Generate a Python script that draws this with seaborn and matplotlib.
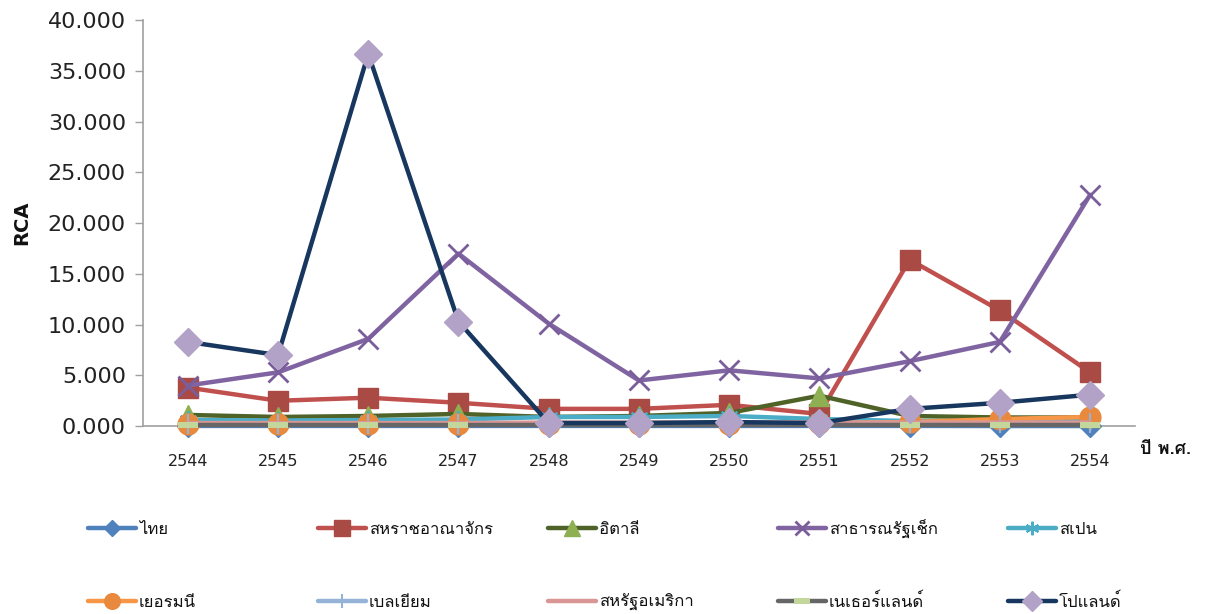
import numpy as np
import pandas as pd
import matplotlib
matplotlib.use("Agg")
import matplotlib.pyplot as plt
from matplotlib import font_manager
from matplotlib.ft2font import FT2Font
from matplotlib.lines import Line2D
import seaborn as sns

# ---- data -------------------------------------------------------------
years = [2544, 2545, 2546, 2547, 2548, 2549, 2550, 2551, 2552, 2553, 2554]
countries = ["ไทย", "สหราชอาณาจักร", "อิตาลี", "สาธารณรัฐเช็ก", "สเปน",
             "เยอรมนี", "เบลเยียม", "สหรัฐอเมริกา", "เนเธอร์แลนด์", "โปแลนด์"]

thailand = [0.02, 0.02, 0.02, 0.02, 0.02, 0.02, 0.02, 0.02, 0.02, 0.01, 0.01]
uk = [3.8, 2.5, 2.8, 2.3, 1.7, 1.7, 2.1, 1.2, 16.4, 11.4, 5.3]
italy = [1.1, 0.9, 1.0, 1.2, 0.9, 1.0, 1.3, 3.0, 1.0, 0.85, 0.85]
czech = [4.0, 5.3, 8.6, 17.0, 10.1, 4.5, 5.5, 4.7, 6.4, 8.3, 22.8]
spain = [0.6, 0.55, 0.6, 0.65, 0.9, 0.9, 1.0, 0.7, 0.5, 0.5, 0.5]
germany = [0.2, 0.2, 0.2, 0.2, 0.2, 0.2, 0.2, 0.3, 0.4, 0.7, 0.9]
belgium = [0.25, 0.25, 0.25, 0.25, 0.3, 0.3, 0.3, 0.3, 0.3, 0.3, 0.3]
usa = [0.3, 0.3, 0.3, 0.3, 0.35, 0.35, 0.35, 0.35, 0.35, 0.35, 0.35]
netherlands = [0.15, 0.15, 0.15, 0.15, 0.15, 0.15, 0.15, 0.15, 0.15, 0.15, 0.15]
poland = [8.3, 7.0, 36.7, 10.3, 0.3, 0.3, 0.4, 0.3, 1.7, 2.3, 3.1]

yticks = [0, 5, 10, 15, 20, 25, 30, 35, 40]

series = [thailand, uk, italy, czech, spain, germany, belgium, usa, netherlands, poland]

# ---- styles -----------------------------------------------------------
bar_marker = [(-1, -0.33), (1, -0.33), (1, 0.33), (-1, 0.33), (-1, -0.33)]
styles = [
    dict(color="#4F81BD", marker="D", mfc="#4F81BD", mec="#4F81BD", ms=11, mew=1),
    dict(color="#C0504D", marker="s", mfc="#A94A45", mec="#A94A45", ms=15, mew=1),
    dict(color="#4F6228", marker="^", mfc="#8FB052", mec="#8FB052", ms=15, mew=1),
    dict(color="#8064A2", marker="x", mfc="#8064A2", mec="#7A5E9C", ms=14, mew=2),
    dict(color="#4BACC6", marker=(6, 2, 0), mfc="#4BACC6", mec="#4BACC6", ms=13, mew=1.5),
    dict(color="#F79646", marker="o", mfc="#E8893D", mec="#E8893D", ms=15, mew=1),
    dict(color="#95B3D7", marker="+", mfc="#95B3D7", mec="#95B3D7", ms=14, mew=1.5),
    dict(color="#D99694", marker=None, mfc="#D99694", mec="#D99694", ms=0, mew=0),
    dict(color="#666666", marker=bar_marker, mfc="#C3D69B", mec="#C3D69B", ms=15, mew=0),
    dict(color="#17375E", marker="D", mfc="#B3A2C7", mec="#B3A2C7", ms=14, mew=1),
]

# ---- fonts ------------------------------------------------------------
sns.set_theme(style="white")


def family_with(char):
    for f in font_manager.fontManager.ttflist:
        try:
            if ord(char) in FT2Font(f.fname).get_charmap():
                return f.name
        except Exception:
            continue
    return None


thai_family = family_with("ก")
families = ([thai_family] if thai_family else []) + ["DejaVu Sans"]
plt.rcParams["font.family"] = families

# ---- figure -----------------------------------------------------------
W, H = 1209, 614
fig = plt.figure(figsize=(W / 100, H / 100), dpi=100)
ax = fig.add_axes([0.118, 0.306, 0.821, 0.661])

df = pd.DataFrame({"year": np.tile(years, len(countries)),
                   "country": np.repeat(countries, len(years)),
                   "rca": np.concatenate(series)})


def marker_kw(st, scale=1.0):
    if st["marker"] is None:
        return {}
    return dict(marker=st["marker"], markersize=st["ms"] * scale,
                markerfacecolor=st["mfc"], markeredgecolor=st["mec"],
                markeredgewidth=st["mew"])


for name, st in zip(countries, styles):
    sub = df[df["country"] == name]
    sns.lineplot(data=sub, x="year", y="rca", ax=ax, color=st["color"],
                 linewidth=3.2, solid_capstyle="round", legend=False,
                 clip_on=False, **marker_kw(st))

ax.set_xlim(years[0] - 0.5, years[-1] + 0.5)
ax.set_ylim(0, 40)
ax.set_yticks(yticks)
ax.set_yticklabels([f"{v:.3f}" for v in yticks], fontsize=16, color="#222222",
                   family=["DejaVu Sans"])
ax.set_xticks(years)
ax.set_xticklabels([str(y) for y in years], fontsize=11.5, color="#222222",
                   family=["DejaVu Sans"])
ax.tick_params(axis="y", which="major", direction="out", length=6, width=1,
               color="#A0A0A0", left=True, pad=6)
ax.tick_params(axis="x", which="major", length=0, pad=20)

for side in ["top", "right"]:
    ax.spines[side].set_visible(False)
for side in ["left", "bottom"]:
    ax.spines[side].set_color("#A0A0A0")
    ax.spines[side].set_linewidth(1.2)
ax.spines["left"].set_zorder(0)
ax.spines["bottom"].set_zorder(0)

ax.set_xlabel("")
ax.set_ylabel("RCA", fontsize=14, fontweight="bold", color="#111111",
              family=["DejaVu Sans"], labelpad=12)
fig.text(1165 / W, 1 - 449 / H, "ปี พ.ศ.", fontsize=13, fontweight="bold",
         ha="center", va="center", color="#111111")

# legend key: five columns, two rows, filled row by row
col_x = [88, 318, 548, 778, 1008]
row_y = [528, 601]
key_len = 48
for i, (name, st) in enumerate(zip(countries, styles)):
    x0 = col_x[i % 5]
    y0 = row_y[i // 5]
    xs = [x0 / W, (x0 + key_len / 2) / W, (x0 + key_len) / W]
    ys = [1 - y0 / H] * 3
    key = Line2D(xs, ys, transform=fig.transFigure, color=st["color"],
                 linewidth=3.2, solid_capstyle="round", markevery=[1],
                 **marker_kw(st, 0.75))
    fig.add_artist(key)
    fig.text((x0 + key_len + 3) / W, 1 - (y0 + 6) / H, name, fontsize=12,
             ha="left", va="baseline", color="#111111")

fig.savefig("out.png", dpi=100)
